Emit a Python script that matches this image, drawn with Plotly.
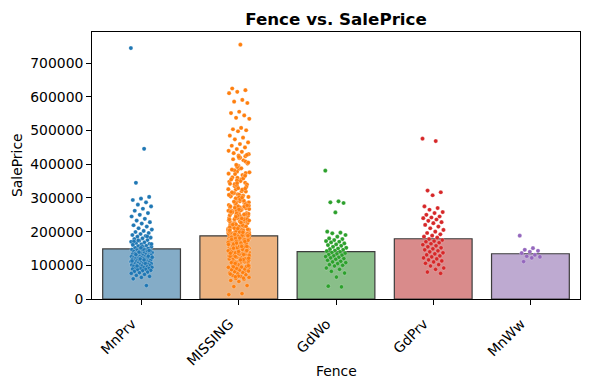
import plotly.graph_objects as go

categories = ["MnPrv", "MISSING", "GdWo", "GdPrv", "MnWw"]
mean_price = [148751, 187597, 140379, 178927, 134286]

# SalePrice values (in thousands)
mnprv_k = [745, 446, 345, 303, 298, 294, 287, 280, 275, 268, 262, 255, 250, 245, 238, 233, 228, 224, 219, 215,
           210, 206, 202, 199, 196, 193, 190, 187, 185, 182,
           180, 178, 175, 173, 170, 168, 166, 164, 162, 160, 158, 157, 155, 153, 152, 150, 149, 147, 146, 145,
           143, 142, 141, 140, 139, 138, 137, 136, 135, 134,
           133, 132, 131, 130, 129, 128, 128, 127, 126, 125, 125, 124, 123, 122, 122, 121, 120, 120, 119, 118,
           118, 117, 116, 115, 115, 114, 113, 112, 112, 111,
           110, 110, 109, 108, 108, 107, 106, 105, 105, 104, 103, 102, 101, 100, 100, 99, 98, 97, 96, 95,
           94, 93, 92, 91, 90, 89, 88, 87, 85, 84,
           82, 80, 78, 76, 73, 70, 67, 64, 60, 40, 174, 163, 148, 135, 127, 119, 113, 106, 98, 143,
           156, 171, 186, 139, 124, 116, 132, 144, 152, 161]

missing_k = [208, 181, 223, 140, 250, 143, 307, 200, 129, 118, 129, 345, 144, 279, 157, 132, 149, 90, 159, 139,
             325, 139, 230, 129, 154, 256, 134, 306, 165, 153,
             109, 163, 145, 190, 164, 173, 154, 177, 395, 220, 165, 172, 180, 196, 185, 149, 138, 240, 198, 114,
             225, 165, 132, 240, 270, 180, 217, 145, 160, 205,
             249, 113, 128, 131, 272, 161, 174, 185, 168, 212, 129, 110, 386, 223, 185, 152, 287, 104, 137, 374,
             311, 153, 182, 131, 189, 160, 187, 176, 101, 197,
             125, 121, 85, 139, 122, 214, 239, 303, 144, 195, 230, 249, 179, 169, 134, 115, 310, 165, 215, 201,
             197, 168, 99, 269, 155, 174, 152, 335, 176, 245,
             112, 82, 161, 201, 265, 128, 232, 175, 192, 138, 280, 113, 103, 160, 195, 267, 119, 125, 228, 275,
             188, 178, 239, 262, 126, 243, 140, 131, 241, 271,
             135, 102, 147, 106, 317, 123, 297, 200, 145, 100, 145, 186, 305, 194, 299, 151, 108, 127, 319, 239,
             262, 137, 226, 147, 159, 255, 111, 108, 326, 233,
             90, 178, 140, 217, 412, 162, 191, 151, 137, 424, 190, 128, 178, 224, 195, 260, 157, 154, 248, 98,
             355, 184, 166, 276, 145, 112, 180, 108, 290, 163,
             121, 147, 372, 205, 140, 150, 148, 173, 131, 169, 93, 245, 178, 175, 140, 211, 135, 135, 246, 250,
             185, 284, 82, 205, 226, 120, 190, 146, 208, 229,
             213, 178, 244, 162, 176, 378, 234, 194, 129, 148, 139, 187, 236, 155, 130, 228, 98, 134, 394, 185,
             220, 341, 109, 115, 108, 287, 254, 262, 320, 170,
             255, 93, 146, 189, 137, 115, 238, 262, 282, 152, 200, 325, 315, 147, 133, 187, 154, 124, 191, 112,
             313, 142, 102, 213, 186, 167, 248, 172, 164, 119,
             337, 193, 183, 315, 340, 215, 197, 175, 103, 206, 167, 110, 139, 241, 200, 147, 237, 155, 157, 108,
             110, 286, 143, 193, 165, 164, 186, 129, 203, 185,
             253, 119, 159, 139, 392, 162, 189, 212, 237, 302, 128, 274, 222, 267, 166, 158, 165, 88, 231, 115,
             271, 174, 230, 140, 133, 124, 161, 239, 163, 156,
             426, 275, 113, 180, 430, 350, 361, 408, 360, 348, 368, 382, 402, 418, 355, 365, 398, 376, 388, 415,
             333, 329, 342, 358, 371, 405, 420, 384, 366, 352,
             13, 16, 37, 40, 52, 55, 58, 61, 64, 67, 70, 72, 75, 77, 79, 81, 84, 86, 87, 89,
             91, 94, 95, 96, 97, 68, 74, 62, 66, 83,
             755, 625, 620, 615, 611, 591, 586, 582, 556, 552, 545, 538, 535, 508, 504, 501, 498, 485, 479, 474,
             465, 460, 455, 450, 445, 440, 437, 433, 428, 422,
             305, 292, 284, 277, 263, 258, 252, 247, 236, 219, 210, 207, 199, 183, 176, 171, 168, 158, 150, 142,
             136, 127, 117, 106, 99, 296, 316, 328, 344, 309,
             301, 289, 278, 266, 259, 251, 244, 233, 227, 221, 216, 209, 204, 198, 192, 188, 181, 177, 171, 166,
             162, 156, 151, 144, 141, 136, 132, 126, 121, 116]

gdwo_k = [381, 290, 287, 285, 257, 200, 197, 195, 190, 185, 180, 178, 175, 172, 170, 168, 165, 162, 160, 158,
          155, 152, 150, 148, 146, 144, 142, 140, 138, 136, 134, 132, 130, 128, 126, 124, 122, 120, 118, 115,
          112, 110, 108, 105, 102, 100, 98, 92, 88, 82, 77, 65, 38, 36]

gdprv_k = [476, 469, 322, 317, 308, 275, 270, 265, 258, 255, 250, 245, 242, 240, 236, 232, 228, 225, 220, 215,
           210, 205, 200, 196, 192, 188, 185, 182, 178, 175, 172, 170, 167, 164, 161, 158, 155, 152, 149, 146,
           143, 140, 137, 134, 131, 128, 125, 122, 119, 116, 113, 110, 106, 102, 98, 92, 88, 80, 76]

mnww_k = [188, 151, 146, 143, 140, 136, 131, 127, 125, 122, 111]

strip_values_k = [mnprv_k, missing_k, gdwo_k, gdprv_k, mnww_k]

point_colors = ["#1f77b4", "#ff7f0e", "#2ca02c", "#d62728", "#9467bd"]
bar_colors = ["rgba(50,116,161,0.6)", "rgba(225,129,44,0.6)", "rgba(58,146,58,0.6)",
              "rgba(192,61,62,0.6)", "rgba(147,114,178,0.6)"]

FONT = "DejaVu Sans"
fig = go.Figure()

fig.add_trace(go.Bar(
    x=list(range(len(categories))), y=mean_price, width=0.8,
    marker=dict(color=bar_colors, line=dict(color="rgba(60,60,60,1)", width=1.2)),
    showlegend=False, hoverinfo="skip",
))

jit = 0.11
for ci, vals in enumerate(strip_values_k):
    xs = [ci + ((i * 0.6180339887) % 1 - 0.5) * 2 * jit for i in range(len(vals))]
    ys = [v * 1000 for v in vals]
    fig.add_trace(go.Scatter(
        x=xs, y=ys, mode="markers",
        marker=dict(size=4.2, color=point_colors[ci], line=dict(color="rgba(255,255,255,0.6)", width=0.4)),
        showlegend=False, hoverinfo="skip",
    ))

PLOT_H = 390 - 32 - 91
PLOT_W = 590 - 92 - 10

fig.update_layout(
    width=590, height=390,
    margin=dict(l=92, r=10, t=32, b=91, autoexpand=False),
    paper_bgcolor="white", plot_bgcolor="white",
    font=dict(family=FONT, size=13.9, color="black"),
    title=dict(text="<b>Fence vs. SalePrice</b>", x=0.5695, xanchor="center",
               yref="container", y=1 - 19 / 390, yanchor="middle",
               font=dict(family=FONT, size=16.7, color="black")),
    bargap=0.2,
    annotations=[
        dict(text="Fence", xref="paper", yref="paper", x=0.5, y=-(371 - 299) / PLOT_H,
             xanchor="center", yanchor="middle", showarrow=False,
             font=dict(family=FONT, size=13.9, color="black")),
        dict(text="SalePrice", xref="paper", yref="paper", x=(16.5 - 92) / PLOT_W, y=0.5,
             xanchor="center", yanchor="middle", textangle=-90, showarrow=False,
             font=dict(family=FONT, size=13.9, color="black")),
    ],
)
pad = "\u00a0" * 3
fig.update_xaxes(
    range=[-0.51, 4.51], tickmode="array", tickvals=list(range(len(categories))),
    ticktext=[c + pad for c in categories],
    tickangle=-45, ticks="outside", ticklen=4.9, tickcolor="black", tickwidth=1,
    ticklabelstandoff=-4,
    showline=True, linecolor="black", linewidth=1, mirror=True, showgrid=False, zeroline=False,
    tickfont=dict(family=FONT, size=13.9), automargin=False,
)
fig.update_yaxes(
    range=[0, 792750], tickmode="array", tickvals=[i * 100000 for i in range(8)],
    ticktext=[str(i * 100000) for i in range(8)],
    ticks="outside", ticklen=4.9, tickcolor="black", tickwidth=1,
    showline=True, linecolor="black", linewidth=1, mirror=True, showgrid=False, zeroline=False,
    tickfont=dict(family=FONT, size=13.9), automargin=False,
)

fig.write_html("out.html", config={"displayModeBar": False},
               post_script="document.body.style.margin='0';document.body.style.overflow='hidden';")
